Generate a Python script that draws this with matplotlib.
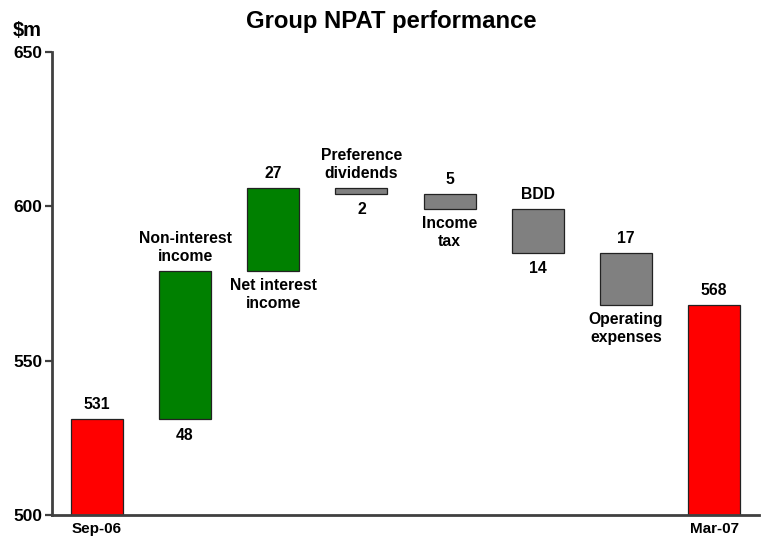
import matplotlib
matplotlib.use("Agg")
import matplotlib.pyplot as plt
import numpy as np

plt.rcParams['font.family'] = ['Liberation Sans', 'DejaVu Sans']
plt.rcParams['font.weight'] = 'bold'

categories = ["Sep-06", "Non-interest\nincome", "Net interest\nincome", "Preference\ndividends",
              "Income\ntax", "BDD", "Operating\nexpenses", "Mar-07"]
start_value = 531
deltas = [48, 27, -2, -5, -14, -17]
end_value = 568
value_labels = ["531", "48", "27", "2", "5", "14", "17", "568"]
# where category name goes relative to bar: 'above', 'below', or 'axis'
name_pos = ["axis", "above", "below", "above", "below", "above", "below", "axis"]

# compute waterfall geometry
bottoms, heights, colors = [], [], []
bottoms.append(0); heights.append(start_value); colors.append("#FF0000")
level = start_value
for d in deltas:
    lo = min(level, level + d)
    bottoms.append(lo); heights.append(abs(d))
    colors.append("#008000" if d > 0 else "#808080")
    level += d
bottoms.append(0); heights.append(end_value); colors.append("#FF0000")

fig = plt.figure(figsize=(7.63, 5.41), dpi=100)
ax = fig.add_axes([0.068, 0.048, 0.927, 0.856])
x = np.arange(len(categories))
ax.bar(x, heights, bottom=bottoms, width=0.59, color=colors, edgecolor="#222222", linewidth=0.9, zorder=2)

ax.set_xlim(-0.51, 7.51)
ax.set_ylim(500, 650)
ax.set_yticks([500, 550, 600, 650])
ax.set_yticklabels(["500", "550", "600", "650"], fontsize=12.5, fontweight='bold')
ax.set_xticks([0, 7])
ax.set_xticklabels([categories[0], categories[7]], fontsize=11, fontweight='bold')
ax.tick_params(axis='x', length=0, pad=5)
ax.tick_params(axis='y', length=5, width=1.6, color="#404040", pad=2)
for s in ["top", "right"]:
    ax.spines[s].set_visible(False)
for s in ["left", "bottom"]:
    ax.spines[s].set_color("#404040")
    ax.spines[s].set_linewidth(2)

fs = 11.3
ls = 1.25
for i in range(len(categories)):
    top = bottoms[i] + heights[i]
    bot = bottoms[i]
    if name_pos[i] == "axis":
        ax.annotate(value_labels[i], (x[i], top), xytext=(0, 5), textcoords="offset points",
                    ha="center", va="bottom", fontsize=fs, fontweight="bold")
    elif name_pos[i] == "above":
        ax.annotate(categories[i], (x[i], top), xytext=(0, 5), textcoords="offset points",
                    ha="center", va="bottom", fontsize=fs, fontweight="bold", linespacing=ls)
        ax.annotate(value_labels[i], (x[i], bot), xytext=(0, -6), textcoords="offset points",
                    ha="center", va="top", fontsize=fs, fontweight="bold")
    else:
        ax.annotate(value_labels[i], (x[i], top), xytext=(0, 5), textcoords="offset points",
                    ha="center", va="bottom", fontsize=fs, fontweight="bold")
        ax.annotate(categories[i], (x[i], bot), xytext=(0, -5), textcoords="offset points",
                    ha="center", va="top", fontsize=fs, fontweight="bold", linespacing=ls)

fig.text(0.513, 0.961, "Group NPAT performance", ha="center", va="center", fontsize=17.2, fontweight="bold")
fig.text(0.035, 0.944, "$m", ha="center", va="center", fontsize=14.5, fontweight="bold")

fig.savefig("out.png", dpi=100)
